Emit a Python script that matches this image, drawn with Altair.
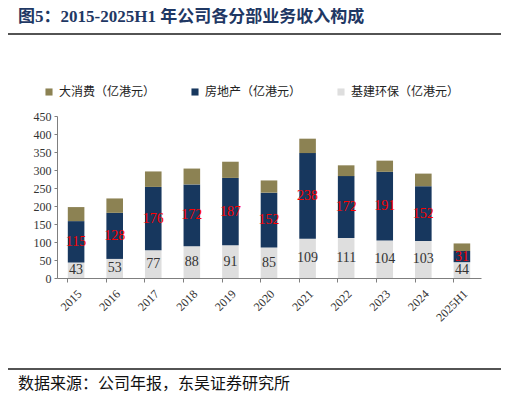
import altair as alt
import pandas as pd

years = ["2015", "2016", "2017", "2018", "2019", "2020", "2021", "2022", "2023", "2024", "2025H1"]
infra = [43, 53, 77, 88, 91, 85, 109, 111, 104, 103, 44]
realty = [115, 128, 176, 172, 187, 152, 238, 172, 191, 152, 31]
consumer = [39, 40, 43, 44, 45, 34, 40, 30, 31, 35, 21]
y_ticks = [0, 50, 100, 150, 200, 250, 300, 350, 400, 450]

seg_names = ["大消费（亿港元）", "房地产（亿港元）", "基建环保（亿港元）"]
seg_colors = ["#8C8253", "#17375E", "#DEDEDE"]

SERIF = "Liberation Serif, Noto Sans CJK SC"

rows = []
for i, y in enumerate(years):
    for name, vals, ord_, base in [
        (seg_names[2], infra, 0, 0),
        (seg_names[1], realty, 1, infra[i]),
        (seg_names[0], consumer, 2, infra[i] + realty[i]),
    ]:
        v = vals[i]
        rows.append({"year": y, "seg": name, "value": v, "ord": ord_, "mid": base + v / 2})
df = pd.DataFrame(rows)

x_enc = alt.X("year:N", sort=years, title=None,
              scale=alt.Scale(paddingInner=0.57, paddingOuter=0.28),
              axis=alt.Axis(labelAngle=-45, labelFont=SERIF, labelFontSize=12, labelColor="#333333",
                            domainColor="#7F7F7F", tickColor="#7F7F7F", bandPosition=0, tickSize=4,
                            labelPadding=6))

bars = alt.Chart(df).mark_bar().encode(
    x=x_enc,
    y=alt.Y("value:Q", stack="zero", title=None,
            scale=alt.Scale(domain=[0, 450], nice=False),
            axis=alt.Axis(values=y_ticks, tickCount=10, grid=False, labelFont=SERIF, labelFontSize=12,
                          labelColor="#333333", domainColor="#7F7F7F", tickColor="#7F7F7F", tickSize=3,
                          labelPadding=3, labelOverlap=False, labelSeparation=0)),
    color=alt.Color("seg:N", scale=alt.Scale(domain=seg_names, range=seg_colors),
                    legend=alt.Legend(title=None, orient="none", legendX=-14, legendY=-30, direction="horizontal",
                                      symbolType="square", symbolSize=50, symbolStrokeWidth=0,
                                      labelFont=SERIF, labelFontSize=12, labelColor="#222222",
                                      columnPadding=33, symbolOffset=0)),
    order=alt.Order("ord:Q"),
)

infra_lbl = alt.Chart(df[df["ord"] == 0]).mark_text(font=SERIF, fontSize=14, color="#333333", baseline="middle").encode(
    x=alt.X("year:N", sort=years), y=alt.Y("mid:Q"), text=alt.Text("value:Q"))
realty_lbl = alt.Chart(df[df["ord"] == 1]).mark_text(font=SERIF, fontSize=14, color="#FF0000", baseline="middle").encode(
    x=alt.X("year:N", sort=years), y=alt.Y("mid:Q"), text=alt.Text("value:Q"))

# title, separator lines and source note
deco = pd.DataFrame({"k": [0]})
title = alt.Chart(deco).mark_text(text="图5：2015-2025H1 年公司各分部业务收入构成", font=SERIF, fontSize=17,
                                  fontWeight="bold", color="#1F3864", align="left", baseline="alphabetic").encode(
    x=alt.value(-39), y=alt.value(-94))
top_line = alt.Chart(deco).mark_rule(color="#1A1A1A", strokeWidth=1.5).encode(
    x=alt.value(-52), x2=alt.value(446), y=alt.value(-82))
bot_line = alt.Chart(deco).mark_rule(color="#1A1A1A", strokeWidth=1.5).encode(
    x=alt.value(-52), x2=alt.value(446), y=alt.value(253))
source = alt.Chart(deco).mark_text(text="数据来源：公司年报，东吴证券研究所", font=SERIF, fontSize=16,
                                   color="#111111", align="left", baseline="middle").encode(
    x=alt.value(-39), y=alt.value(268))

chart = alt.layer(bars, infra_lbl, realty_lbl, title, top_line, bot_line, source).properties(
    width=424, height=162,
    autosize=alt.AutoSizeParams(type="none"),
    padding={"left": 49, "top": 108, "right": 20, "bottom": 114},
).configure_view(stroke=None).configure_axisY(labelOverlap=False)

chart.save("out.html", embed_options={"renderer": "svg", "actions": False})
